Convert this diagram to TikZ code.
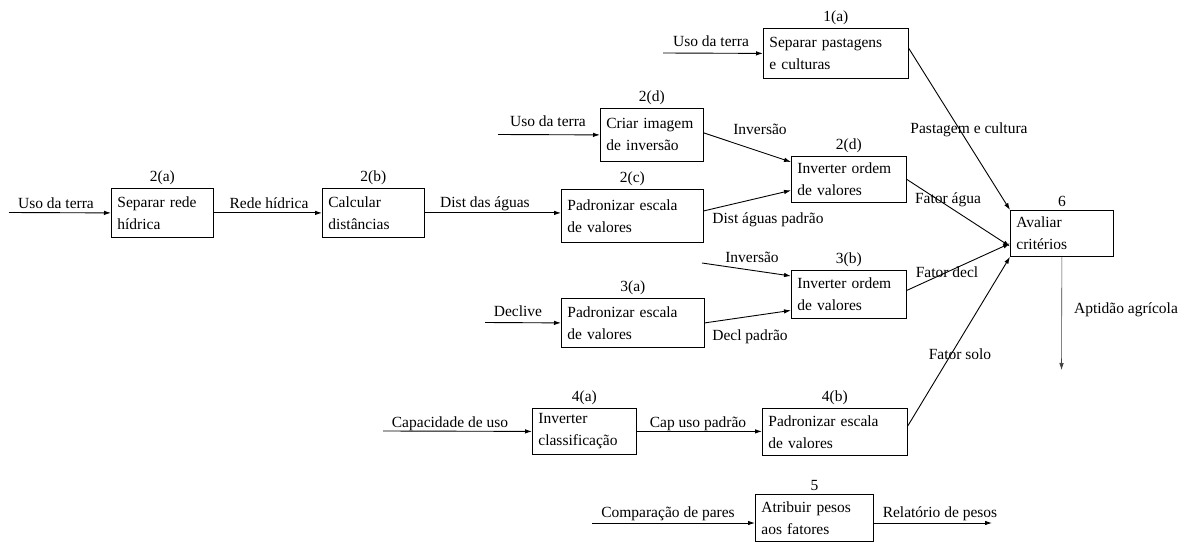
\documentclass[tikz,border=0pt]{standalone}
\usepackage{fontspec}
\setmainfont{Liberation Serif}
\newfontfamily\diafont{Liberation Serif}
\usetikzlibrary{arrows.meta}
\begin{document}
\begin{tikzpicture}[x=1pt,y=-1pt,
  proc/.style={draw=black, line width=0.8pt, rectangle, anchor=north west,
    inner xsep=6pt, inner ysep=0pt, align=left,
    font=\diafont\fontsize{15.5}{22}\selectfont},
  num/.style={inner sep=0pt, anchor=south, font=\diafont\fontsize{15.5}{18}\selectfont},
  flowlbl/.style={inner sep=0pt, anchor=base, font=\diafont\fontsize{15.5}{18}\selectfont},
  flow/.style={line width=0.9pt, -{Latex[length=7pt,width=4.5pt]}},
  outflow/.style={line width=0.6pt, draw=black!75, -{Latex[length=7pt,width=4.5pt]}},
]
\useasboundingbox (0,0) rectangle (1187,543);

% process boxes
\node[proc, minimum width=145pt, minimum height=50pt, text width=133pt] (a1) at (763,28) {Separar pastagens\\e culturas};
\node[proc, minimum width=103pt, minimum height=53pt, text width=91pt] (dc) at (600,108) {Criar imagem\\de inversão};
\node[proc, minimum width=102pt, minimum height=49pt, text width=90pt] (wa) at (111,188) {Separar rede\\hídrica};
\node[proc, minimum width=102pt, minimum height=49pt, text width=90pt] (wb) at (322,188) {Calcular\\distâncias};
\node[proc, minimum width=142pt, minimum height=53pt, text width=130pt] (wc) at (561,189) {Padronizar escala\\de valores};
\node[proc, minimum width=115pt, minimum height=46pt, text width=103pt] (wd) at (791,156) {Inverter ordem\\de valores};
\node[proc, minimum width=103pt, minimum height=46pt, text width=91pt] (six) at (1010,210) {Avaliar\\critérios};
\node[proc, minimum width=143pt, minimum height=49pt, text width=131pt] (sa) at (561,298) {Padronizar escala\\de valores};
\node[proc, minimum width=115pt, minimum height=48pt, text width=103pt] (sb) at (791,270) {Inverter ordem\\de valores};
\node[proc, minimum width=104pt, minimum height=46pt, text width=92pt] (fa) at (532,408) {Inverter\\classificação};
\node[proc, minimum width=145pt, minimum height=47pt, text width=133pt] (fb) at (762,408) {Padronizar escala\\de valores};
\node[proc, minimum width=118pt, minimum height=47pt, text width=106pt] (five) at (755,494) {Atribuir pesos\\aos fatores};

% step numbers
\node[num] (na1) at ([yshift=3pt]a1.north) {1(a)};
\node[num] (ndc) at ([yshift=3pt]dc.north) {2(d)};
\node[num] (nwa) at ([yshift=3pt]wa.north) {2(a)};
\node[num] (nwb) at ([yshift=3pt]wb.north) {2(b)};
\node[num] (nwc) at ([yshift=3pt]wc.north) {2(c)};
\node[num] (nwd) at ([yshift=3pt]wd.north) {2(d)};
\node[num] (nsix) at ([yshift=3pt]six.north) {6};
\node[num] (nsa) at ([yshift=3pt]sa.north) {3(a)};
\node[num] (nsb) at ([yshift=3pt]sb.north) {3(b)};
\node[num] (nfa) at ([yshift=3pt]fa.north) {4(a)};
\node[num] (nfb) at ([yshift=3pt]fb.north) {4(b)};
\node[num] (nfive) at ([yshift=3pt]five.north) {5};

% free ends of the input and output flows
\coordinate (s1) at (663,53);
\coordinate (s2) at (498,134.5);
\coordinate (s3) at (9,212.5);
\coordinate (s4) at (702,263);
\coordinate (s5) at (485,322.5);
\coordinate (s6) at (383,431);
\coordinate (s7) at (592,523);
\coordinate (e1) at (992,523);
\coordinate (e2) at (1061.5,370);

% flows
\draw[flow] (s1) -- (a1.west);
\draw[flow] (s2) -- (dc.west);
\draw[flow] (s3) -- (wa.west);
\draw[flow] (wa.east) -- (wb.west);
\draw[flow] (wb.east) -- (wb.east -| wc.west);
\draw[flow] ([yshift=2pt]dc.east) -- ([yshift=-6pt]wd.north west);
\draw[flow] ([yshift=5pt]wc.east) -- ([yshift=-11pt]wd.west);
\draw[flow] (wd.east) -- ([yshift=-13pt]six.west);
\draw[flow] ([yshift=5pt]a1.east) -- (six.north west);
\draw[flow] (s4) -- ([yshift=-6pt]sb.north west);
\draw[flow] (s5) -- (sa.west);
\draw[flow] (sa.east) -- ([yshift=-16pt]sb.west);
\draw[flow] ([yshift=4pt]sb.east) -- ([yshift=-10pt]six.west);
\draw[flow] (s6) -- (fa.west);
\draw[flow] (fa.east) -- (fa.east -| fb.west);
\draw[flow] ([yshift=6pt]fb.east) -- (six.south west);
\draw[flow] (s7) -- (s7 -| five.west);
\draw[flow] (s7 -| five.east) -- (e1);
\draw[outflow] (six.south) -- (e2);

% flow labels
\node[flowlbl] (t1) at (711,47) {Uso da terra};
\node[flowlbl] (t2) at (548,127) {Uso da terra};
\node[flowlbl] (t3) at (56,208) {Uso da terra};
\node[flowlbl] (t4) at (269,208) {Rede hídrica};
\node[flowlbl] (t5) at (485,207) {Dist das águas};
\node[flowlbl] (t6) at (760,135) {Inversão};
\node[flowlbl] (t7) at (768,223) {Dist águas padrão};
\node[flowlbl] (t8) at (948,203) {Fator água};
\node[flowlbl] (t9) at (969,133) {Pastagem e cultura};
\node[flowlbl] (t10) at (752,262) {Inversão};
\node[flowlbl] (t11) at (947,277) {Fator decl};
\node[flowlbl] (t12) at (518,316) {Declive};
\node[flowlbl] (t13) at (750,340) {Decl padrão};
\node[flowlbl] (t14) at (960,359) {Fator solo};
\node[flowlbl] (t15) at (1126,313) {Aptidão agrícola};
\node[flowlbl] (t16) at (450,427) {Capacidade de uso};
\node[flowlbl] (t17) at (698,427) {Cap uso padrão};
\node[flowlbl] (t18) at (668,517) {Comparação de pares};
\node[flowlbl] (t19) at (940,517) {Relatório de pesos};
\end{tikzpicture}
\end{document}
